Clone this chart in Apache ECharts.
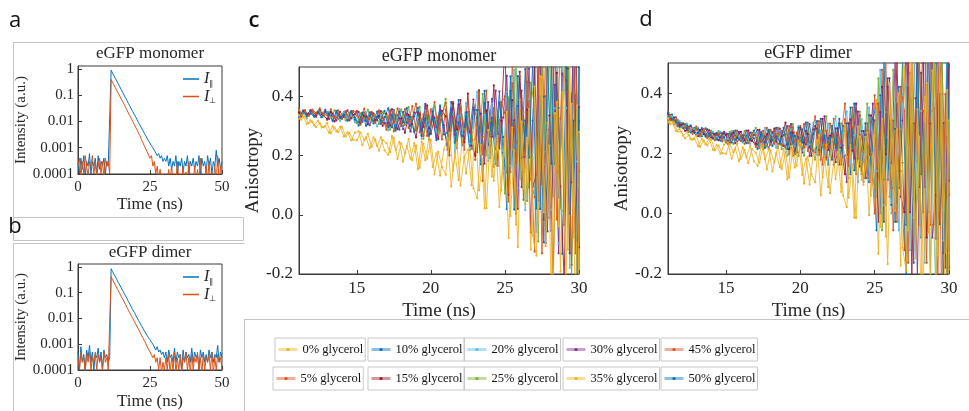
<!DOCTYPE html>
<html><head><meta charset="utf-8">
<script src="https://cdn.jsdelivr.net/npm/echarts@6/dist/echarts.min.js"></script>
<style>html,body{margin:0;padding:0;background:#fff}#c{width:969px;height:411px}</style>
</head><body><div id="c"></div><script>
// ---------- data ----------
const timeAB = [0,0.5,1,1.5,2,2.5,3,3.5,4,4.5,5,5.5,6,6.5,7,7.5,8,8.5,9,9.5,10,10.5,11,11.5,12,12.5,13,13.5,14,14.5,15,15.5,16,16.5,17,17.5,18,18.5,19,19.5,20,20.5,21,21.5,22,22.5,23,23.5,24,24.5,25,25.5,26,26.5,27,27.5,28,28.5,29,29.5,30,30.5,31,31.5,32,32.5,33,33.5,34,34.5,35,35.5,36,36.5,37,37.5,38,38.5,39,39.5,40,40.5,41,41.5,42,42.5,43,43.5,44,44.5,45,45.5,46,46.5,47,47.5,48,48.5,49,49.5,50];
const monoPar = [0.0003,0.0001,0.0004,0.00015,0.0005,0.00008,0.0003,0.0002,0.0006,0.0001,0.0003,0.0002,0.0004,0.00009,0.0005,0.00015,0.0003,0.0002,0.0004,0.0001,0.0003,0.0002,
  0.0002,
  0.9,0.7,0.55,0.43,0.34,0.27,0.21,0.165,0.13,0.1,0.08,0.063,0.049,0.039,0.03,0.024,0.019,0.015,0.0118,0.0092,0.0074,0.0058,0.0046,0.0036,0.0029,0.0023,0.0018,0.0015,0.0012,0.001,0.0008,0.0007,0.0005,0.0006,0.0004,0.0005,0.0003,0.0004,
  0.0003,0.0005,0.0002,0.0004,0.00015,0.0003,0.0002,0.0005,0.0001,0.0003,0.0002,0.0004,0.00012,0.0003,0.0002,0.0005,0.0001,0.0003,0.0002,0.0004,0.00015,0.0003,0.0002,0.0005,0.0001,0.0004,0.0002,0.0003,0.00012,0.0005,0.0002,0.0004,0.0001,0.0003,0.0002,0.0008,0.0002,0.0004,0.00015,0.0003];
const monoPerp = [0.0002,0.0004,0.00008,0.0003,0.0001,0.0005,0.0002,0.00008,0.0003,0.0002,0.0005,0.0001,0.0003,0.00008,0.0002,0.0004,0.0001,0.0003,0.00008,0.0004,0.0002,0.0003,
  0.0001,
  0.4,0.31,0.245,0.19,0.15,0.118,0.092,0.072,0.057,0.045,0.035,0.027,0.021,0.0165,0.013,0.01,0.0078,0.006,0.0048,0.0036,0.0029,0.0021,0.0018,0.0012,0.0011,0.0007,0.0007,0.0004,0.0005,0.0002,0.0003,0.0001,0.0002,0.00006,0.00015,0.00005,0.0001,0.00005,
  0.0001,0.00005,0.00015,0.00005,0.0002,0.00005,0.0001,0.00005,0.0003,0.00005,0.0001,0.00005,0.0002,0.00005,0.00012,0.00005,0.0003,0.00005,0.0001,0.00005,0.0002,0.00005,0.00015,0.00005,0.0004,0.00005,0.0001,0.00005,0.0002,0.00005,0.0003,0.00005,0.0001,0.00005,0.0002,0.00005,0.0005,0.00005,0.0002,0.00005];
const dimPar = [0.0005,0.0001,0.0008,0.0002,0.0004,0.0001,0.0006,0.0003,0.0009,0.0002,0.0005,0.0001,0.0004,0.0003,0.0007,0.0002,0.0005,0.0001,0.0006,0.0003,0.0004,0.0002,
  0.0003,
  0.85,0.66,0.52,0.41,0.32,0.25,0.2,0.155,0.122,0.095,0.075,0.059,0.046,0.036,0.028,0.022,0.0175,0.0138,0.0108,0.0085,0.0067,0.0053,0.0042,0.0034,0.0027,0.0022,0.0018,0.0015,0.0012,0.001,0.0009,0.0006,0.0008,0.0005,0.0006,0.0004,0.0005,0.0003,
  0.0005,0.0002,0.0006,0.0003,0.0004,0.0002,0.0007,0.0002,0.0005,0.0003,0.0004,0.0001,0.0006,0.0002,0.0005,0.0003,0.0004,0.0002,0.0007,0.0002,0.0005,0.0003,0.0004,0.0001,0.0006,0.0003,0.0005,0.0002,0.0004,0.0002,0.0006,0.0003,0.0005,0.0002,0.0004,0.0003,0.0009,0.0002,0.0005,0.0003];
const dimPerp = [0.0003,0.0001,0.0005,0.0002,0.0003,0.00008,0.0004,0.0002,0.0005,0.0001,0.0003,0.0002,0.0005,0.0001,0.0004,0.0002,0.0003,0.0001,0.0005,0.0002,0.0003,0.0001,
  0.0001,
  0.42,0.32,0.25,0.195,0.152,0.12,0.093,0.073,0.057,0.045,0.035,0.027,0.021,0.0165,0.013,0.0101,0.0079,0.0062,0.0048,0.0038,0.003,0.0023,0.0018,0.0014,0.0011,0.0008,0.0007,0.0005,0.0005,0.0003,0.0004,0.0002,0.0003,0.0001,0.0003,0.00008,0.0002,0.0001,
  0.0003,0.0001,0.0004,0.00008,0.0003,0.0001,0.0005,0.00008,0.0003,0.0001,0.0004,0.00008,0.0003,0.0002,0.0005,0.0001,0.0003,0.00008,0.0004,0.0001,0.0003,0.0002,0.0005,0.0001,0.0003,0.00008,0.0004,0.0001,0.0003,0.0002,0.0004,0.0001,0.0005,0.00008,0.0003,0.0001,0.0004,0.0002,0.0003,0.0001];

// sample times (ns) of the anisotropy curves (two interleaved 0.25 ns grids)
const tD1 = [11.1,11.25,11.5,11.75,12,12.25,12.5,12.75,13,13.25,13.5,13.75,14,14.25,14.5,14.75,15,15.25,15.5,15.75,16,16.25,16.5,16.75,17,17.25,17.5,17.75,18,18.25,18.5,18.75,19,19.25,19.5,19.75,20,20.25,20.5,20.75,21,21.25,21.5,21.75,22,22.25,22.5,22.75,23,23.25,23.5,23.75,24,24.25,24.5,24.75,25,25.25,25.5,25.75,26,26.25,26.5,26.75,27,27.25,27.5,27.75,28,28.25,28.5,28.75,29,29.25,29.5,29.75,30];
const tD2 = [11.125,11.375,11.625,11.875,12.125,12.375,12.625,12.875,13.125,13.375,13.625,13.875,14.125,14.375,14.625,14.875,15.125,15.375,15.625,15.875,16.125,16.375,16.625,16.875,17.125,17.375,17.625,17.875,18.125,18.375,18.625,18.875,19.125,19.375,19.625,19.875,20.125,20.375,20.625,20.875,21.125,21.375,21.625,21.875,22.125,22.375,22.625,22.875,23.125,23.375,23.625,23.875,24.125,24.375,24.625,24.875,25.125,25.375,25.625,25.875,26.125,26.375,26.625,26.875,27.125,27.375,27.625,27.875,28.125,28.375,28.625,28.875,29.125,29.375,29.625,29.875,30];

const glycerol = ['0% glycerol','5% glycerol','10% glycerol','15% glycerol','20% glycerol','25% glycerol','30% glycerol','35% glycerol','45% glycerol','50% glycerol'];

// eGFP monomer anisotropy
const mono_0  = [.337,.322,.333,.31,.315,.297,.31,.296, .31,.276,.295,.28,.298,.265,.277,.254, .252,.278,.253,.274,.23,.255,.217,.253, .243,.212,.26,.189,.242,.207,.256,.185, .234,.159,.241,.19,.254,.137,.213,.162, .136,.277,.149,.245,.099,.195,.22,.1, .296,.083,.179,.022,.258,.115,.267,.082, .25,-.078,.295,-.033,.39,.087,.26,-.118, .434,-.025,.467,-.106,.234,-.263,.381,-.192, .56,-.118,.375,-.303,.28];
const mono_5  = [.35,.338,.354,.335,.345,.331,.349,.339, .321,.344,.331,.353,.324,.34,.319,.348, .336,.305,.346,.325,.348,.315,.353,.313, .302,.354,.282,.338,.31,.358,.294,.33, .375,.279,.339,.267,.357,.303,.333,.255, .356,.271,.382,.245,.322,.22,.348,.279, .186,.355,.264,.42,.212,.329,.173,.381, .345,.045,.445,.245,.47,.145,.52,.12, .06,.554,-.13,.402,.136,.592,-.016,.326, .68,-.04,.41,-.13,.545];
const mono_10 = [.331,.347,.339,.353,.334,.345,.33,.349, .338,.317,.346,.331,.347,.324,.351,.322, .313,.346,.301,.336,.318,.349,.308,.331, .36,.296,.336,.288,.348,.312,.332,.28, .349,.289,.367,.271,.325,.253,.343,.295, .235,.346,.286,.388,.252,.329,.226,.363, .327,.171,.379,.275,.392,.223,.418,.21, .143,.468,.018,.368,.193,.493,.093,.318, .628,.02,.4,-.056,.514,.172,.362,-.132, .498,.048,.633,-.087,.318];
const mono_15 = [.346,.331,.35,.341,.352,.336,.354,.335, .325,.348,.316,.341,.329,.35,.321,.338, .351,.311,.336,.306,.344,.321,.334,.301, .342,.302,.354,.29,.326,.278,.338,.306, .262,.34,.298,.37,.274,.328,.256,.352, .333,.201,.377,.289,.388,.245,.41,.234, .2,.421,.115,.353,.234,.438,.166,.319, .58,.068,.388,.004,.484,.196,.356,-.06, .528,.048,.672,-.096,.336,-.24,.48,.096, -.22,.495,.11,.77,-.11];
const mono_20 = [.333,.349,.327,.344,.335,.35,.331,.341, .349,.32,.338,.317,.344,.327,.336,.313, .339,.314,.347,.306,.329,.299,.337,.316, .286,.338,.31,.358,.294,.33,.282,.346, .329,.257,.353,.305,.359,.281,.371,.275, .258,.369,.216,.335,.275,.378,.241,.318, .416,.208,.338,.182,.377,.26,.325,.156, .416,.166,.491,.091,.316,.016,.391,.191, -.058,.436,.17,.626,.018,.36,-.096,.512, .361,-.179,.541,.181,.586];
const mono_25 = [.357,.338,.35,.335,.353,.343,.349,.333, .348,.33,.353,.324,.341,.319,.346,.332, .31,.343,.325,.355,.315,.338,.307,.348, .336,.288,.352,.32,.356,.304,.364,.3, .287,.365,.257,.341,.299,.371,.275,.329, .392,.256,.341,.239,.367,.29,.333,.222, .37,.24,.409,.201,.318,.162,.357,.253, .072,.397,.222,.522,.122,.347,.047,.447, .366,-.09,.518,.214,.556,.062,.632,.024, .007,.592,-.218,.412,.097];
const mono_30 = [.331,.35,.338,.353,.335,.345,.339,.355, .324,.342,.319,.348,.331,.353,.326,.34, .348,.315,.333,.303,.343,.32,.351,.31, .31,.358,.294,.326,.29,.342,.282,.346, .345,.267,.375,.291,.333,.261,.357,.303, .22,.356,.271,.373,.245,.322,.279,.39, .212,.342,.173,.381,.264,.42,.225,.329, .47,.145,.32,.02,.42,.195,.495,.095, .136,.592,-.016,.288,-.054,.44,-.13,.478, .455,-.13,.68,.05,.365];
const mono_35 = [.325,.333,.308,.32,.302,.318,.296,.3, .278,.299,.282,.298,.265,.279,.252,.278, .282,.236,.262,.225,.262,.233,.262,.218, .203,.266,.219,.247,.18,.233,.19,.243, .154,.248,.185,.261,.162,.208,.133,.221, .26,.096,.21,.118,.259,.14,.227,.09, .056,.236,.023,.287,.13,.254,.027,.193, .348,-.004,.218,-.109,.313,.036,.358,-.069, -.138,.468,.009,.311,-.262,.344,-.039,.415, -.252,.511,-.077,.37,-.3];
const mono_45 = [.359,.343,.351,.337,.356,.345,.36,.341, .336,.357,.328,.343,.327,.35,.323,.352, .347,.314,.359,.324,.342,.311,.352,.329, .288,.352,.312,.36,.3,.336,.316,.368, .285,.345,.267,.363,.309,.381,.291,.339, .379,.268,.328,.226,.362,.285,.388,.251, .257,.413,.205,.309,.192,.361,.166,.374, .401,.076,.526,.176,.351,.051,.451,.226, -.124,.484,.104,.56,-.01,.332,.142,.636, -.034,.416,-.169,.551,.146];
const mono_50 = [.338,.353,.334,.343,.332,.348,.33,.349, .343,.32,.352,.327,.339,.318,.347,.33, .302,.342,.317,.347,.309,.332,.319,.352, .297,.337,.285,.349,.313,.361,.301,.333, .362,.284,.326,.254,.35,.296,.368,.272, .278,.381,.244,.313,.236,.347,.219,.355, .354,.185,.419,.237,.328,.172,.38,.263, .019,.419,.169,.469,.094,.319,.194,.519, .021,.401,-.093,.515,.173,.629,.059,.363, .589,.004,.319,-.221,.499];

// eGFP dimer anisotropy
const dim_0  = [.317,.297,.301,.272,.272,.25,.261,.245, .26,.222,.243,.227,.247,.211,.226,.201, .199,.232,.205,.232,.182,.212,.168,.214, .203,.169,.226,.147,.209,.17,.227,.148, .206,.12,.217,.159,.235,.1,.189,.131, .104,.262,.121,.229,.068,.176,.204,.072, .294,.053,.164,-.014,.257,.096,.27,.06, .258,-.133,.315,-.076,.433,.071,.28,-.172, .486,-.055,.528,-.148,.256,-.331,.433,-.244, .614,-.137,.412,-.339,.31];
const dim_5  = [.319,.328,.296,.305,.289,.298,.274,.279, .289,.26,.273,.251,.273,.257,.263,.24, .267,.245,.274,.239,.258,.232,.265,.247, .222,.268,.243,.285,.229,.261,.218,.275, .264,.197,.286,.241,.291,.219,.302,.214, .203,.307,.163,.275,.219,.315,.187,.259, .365,.157,.287,.131,.326,.209,.274,.105, .393,.113,.477,.029,.281,-.055,.365,.141, -.121,.425,.131,.635,-.037,.341,-.163,.509, .349,-.227,.541,.157,.589];
const dim_10 = [.321,.329,.3,.301,.283,.293,.27,.284, .281,.257,.283,.258,.267,.246,.269,.253, .232,.267,.245,.272,.239,.258,.247,.276, .229,.264,.218,.275,.243,.285,.232,.261, .291,.219,.258,.192,.28,.23,.297,.208, .219,.315,.187,.251,.179,.283,.163,.291, .3,.131,.365,.183,.274,.118,.326,.209, -.055,.393,.113,.449,.029,.281,.141,.505, -.037,.383,-.163,.509,.131,.635,.005,.341, .589,-.035,.301,-.275,.493];
const dim_15 = [.332,.313,.319,.292,.295,.275,.288,.273, .26,.278,.264,.28,.252,.265,.244,.267, .261,.234,.269,.252,.272,.243,.276,.241, .232,.278,.215,.264,.239,.282,.225,.257, .302,.214,.269,.203,.286,.236,.264,.192, .291,.211,.315,.187,.259,.163,.283,.219, .131,.3,.209,.365,.157,.274,.118,.326, .309,-.027,.421,.197,.449,.085,.505,.057, .005,.551,-.205,.383,.089,.593,-.079,.299, .685,-.083,.397,-.179,.541];
const dim_20 = [.318,.323,.297,.308,.291,.299,.276,.281, .286,.262,.27,.248,.272,.255,.272,.245, .247,.274,.239,.256,.236,.265,.232,.267, .268,.222,.285,.236,.261,.218,.275,.243, .192,.28,.225,.291,.208,.258,.23,.302, .195,.275,.171,.299,.227,.323,.203,.267, .339,.17,.261,.105,.313,.196,.352,.144, .141,.477,.029,.253,.001,.365,-.055,.393, .425,-.121,.635,.047,.341,-.163,.509,.131, -.275,.493,.013,.589,-.131];
const dim_25 = [.315,.324,.306,.312,.286,.291,.271,.285, .278,.256,.278,.262,.275,.252,.274,.246, .243,.272,.232,.263,.247,.274,.239,.258, .285,.229,.264,.222,.275,.243,.261,.215, .28,.225,.297,.208,.258,.192,.275,.23, .179,.283,.227,.323,.195,.267,.171,.299, .274,.118,.326,.222,.339,.17,.365,.157, .085,.449,-.055,.337,.141,.477,.029,.281, .635,-.037,.383,-.121,.509,.131,.341,-.205, .493,.013,.637,-.131,.301];
const dim_30 = [.331,.308,.32,.295,.297,.276,.29,.275, .257,.28,.261,.277,.251,.263,.253,.272, .241,.263,.234,.269,.25,.276,.243,.261, .278,.232,.257,.215,.271,.239,.282,.225, .23,.297,.208,.253,.203,.275,.192,.28, .283,.179,.323,.211,.267,.171,.299,.227, .105,.313,.183,.339,.144,.261,.196,.365, .057,.337,-.027,.421,.169,.505,.085,.309, .551,.005,.299,-.205,.467,.089,.593,-.079, .061,.637,-.131,.253,-.179];
const dim_35 = [.303,.306,.275,.281,.259,.271,.247,.249, .224,.248,.23,.248,.212,.228,.199,.229, .237,.183,.216,.174,.22,.187,.224,.174, .159,.232,.18,.214,.14,.201,.154,.215, .114,.224,.153,.242,.129,.183,.097,.2, .243,.061,.19,.088,.247,.115,.213,.061, .022,.228,-.013,.289,.112,.255,-.005,.187, .377,-.044,.224,-.167,.342,.01,.399,-.113, -.19,.529,-.013,.346,-.33,.388,-.063,.475, -.287,.562,-.089,.41,-.34];
const dim_45 = [.337,.311,.313,.29,.301,.285,.286,.265, .283,.264,.281,.253,.265,.244,.266,.251, .236,.265,.25,.276,.241,.261,.234,.269, .261,.218,.275,.246,.278,.232,.285,.229, .219,.291,.192,.269,.23,.297,.208,.258, .323,.195,.275,.179,.299,.227,.267,.163, .313,.183,.352,.144,.261,.105,.3,.196, .001,.365,.169,.505,.057,.309,-.027,.421, .341,-.163,.509,.173,.551,.005,.635,-.037, -.035,.589,-.275,.397,.061];
const dim_50 = [.335,.312,.31,.288,.3,.283,.293,.269, .268,.284,.256,.266,.249,.268,.242,.266, .265,.236,.276,.245,.261,.234,.269,.25, .215,.271,.236,.278,.225,.257,.239,.285, .214,.269,.197,.286,.236,.302,.219,.264, .307,.203,.259,.163,.291,.219,.315,.187, .196,.352,.144,.248,.131,.3,.105,.313, .365,.001,.505,.113,.309,-.027,.421,.169, -.205,.467,.047,.551,-.079,.299,.089,.635, -.083,.397,-.227,.541,.109];

// ---------- styling ----------
const SERIF = 'Liberation Serif';
const TXT = '#262626';
const colors = ['#EDB120','#D95319','#0072BD','#A2142F','#4DBEEE','#77AC30','#7E2F8E','#EDB120','#D95319','#0072BD'];
const monoSets = [mono_0,mono_5,mono_10,mono_15,mono_20,mono_25,mono_30,mono_35,mono_45,mono_50];
const dimSets  = [dim_0,dim_5,dim_10,dim_15,dim_20,dim_25,dim_30,dim_35,dim_45,dim_50];
const gridOf   = [tD1,tD1,tD2,tD1,tD2,tD1,tD2,tD2,tD1,tD2];

function pairs(t, v){ const n=Math.min(t.length,v.length); const out=[]; for(let i=0;i<n;i++) out.push([t[i],v[i]]); return out; }

const chart = echarts.init(document.getElementById('c'), null, {renderer:'canvas'});

const gridBase = {show:true, borderColor:'#3a3a3a', borderWidth:1, backgroundColor:'#fff'};
const axisCommon = {
  axisLine:{onZero:false, lineStyle:{color:'#3a3a3a', width:1}},
  axisTick:{inside:true, length:4, lineStyle:{color:'#3a3a3a'}},
  splitLine:{show:false}
};

function logFmt(v){ return String(+Number(v).toPrecision(1)); }

const xAB = (gi, gap) => Object.assign({}, axisCommon, {
  gridIndex:gi, type:'value', min:0, max:50, interval:25,
  axisLabel:{fontFamily:SERIF, fontSize:15, color:TXT, margin:6},
  name:'Time (ns)', nameLocation:'middle', nameGap:gap,
  nameTextStyle:{fontFamily:SERIF, fontSize:17, color:TXT}
});
const yAB = (gi) => Object.assign({}, axisCommon, {
  gridIndex:gi, type:'log', logBase:10, min:0.0001, max:1.3,
  axisLabel:{fontFamily:SERIF, fontSize:15, color:TXT, margin:4, showMaxLabel:false, formatter:logFmt},
  name:'Intensity (a.u.)', nameLocation:'middle', nameGap:45,
  nameTextStyle:{fontFamily:SERIF, fontSize:15, color:TXT}
});
const xCD = (gi) => Object.assign({}, axisCommon, {
  gridIndex:gi, type:'value', min:11.1, max:30, splitNumber:4,
  axisLabel:{fontFamily:SERIF, fontSize:17, color:TXT, margin:6, showMinLabel:false},
  name:'Time (ns)', nameLocation:'middle', nameGap:24,
  nameTextStyle:{fontFamily:SERIF, fontSize:19, color:TXT}
});
const yCD = (gi, gap) => Object.assign({}, axisCommon, {
  gridIndex:gi, type:'value', min:-0.2, max:0.5, interval:0.2,
  axisLabel:{fontFamily:SERIF, fontSize:17, color:TXT, margin:6, showMaxLabel:false, formatter:v=>Number(v).toFixed(1)},
  name:'Anisotropy', nameLocation:'middle', nameGap:gap,
  nameTextStyle:{fontFamily:SERIF, fontSize:19, color:TXT}
});

const series = [];
function addIntensity(gi, par, perp){
  series.push({type:'line', name:'Ipar', xAxisIndex:gi, yAxisIndex:gi, data:pairs(timeAB,par), symbol:'none', clip:true,
    color:'#0072BD', lineStyle:{width:1}, animation:false});
  series.push({type:'line', name:'Iperp', xAxisIndex:gi, yAxisIndex:gi, data:pairs(timeAB,perp), symbol:'none', clip:true,
    color:'#D95319', lineStyle:{width:1}, animation:false});
}
addIntensity(0, monoPar, monoPerp);
addIntensity(1, dimPar, dimPerp);
function addAniso(gi, sets){
  for(let k=0;k<10;k++){
    const yellow = (k===0 || k===7);
    series.push({type:'line', name:glycerol[k], xAxisIndex:gi, yAxisIndex:gi, data:pairs(gridOf[k], sets[k]),
      symbol:'circle', symbolSize:2.2, showSymbol:true, clip:true, color:colors[k], z: yellow ? 3 : 2,
      lineStyle:{width:1, opacity:0.85}, itemStyle:{opacity:1}, animation:false});
  }
}
addAniso(2, monoSets);
addAniso(3, dimSets);

const richI = {
  i:{fontFamily:SERIF, fontStyle:'italic', fontSize:16, color:TXT},
  s:{fontFamily:'DejaVu Sans', fontSize:8, color:TXT, padding:[9,0,0,0]}
};
const fmtI = n => n==='Ipar' ? '{i|I}{s|∥}' : '{i|I}{s|⊥}';
const legends = [
  {data:['Ipar','Iperp'], left:183, top:71, orient:'vertical', itemGap:1, itemWidth:16, itemHeight:1.5, icon:'rect',
   formatter:fmtI, textStyle:{rich:richI}, padding:0},
  {data:['Ipar','Iperp'], left:183, top:269, orient:'vertical', itemGap:1, itemWidth:16, itemHeight:1.5, icon:'rect',
   formatter:fmtI, textStyle:{rich:richI}, padding:0}
];
// glycerol legend boxes: row 1 = 0,10,20,30,45 ; row 2 = 5,15,25,35,50
const legendRows = [[0,2,4,6,8],[1,3,5,7,9]];
const colLeft = [[275,368,464,563,661],[273,368,464,563,661]];
const rowTop = [338,367];
legendRows.forEach((row,r)=>row.forEach((k,c)=>{
  legends.push({data:[glycerol[k]], left:colLeft[r][c], top:rowTop[r], orient:'horizontal',
    itemWidth:19, itemHeight:4, itemGap:0, padding:[5,2,5,2],
    borderColor:'#c8c8c8', borderWidth:1,
    lineStyle:{width:3, opacity:0.45}, itemStyle:{opacity:1},
    textStyle:{fontFamily:SERIF, fontSize:12.5, color:'#111'}});
}));

const lineEl = (x1,y1,x2,y2) => ({type:'line', shape:{x1,y1,x2,y2}, style:{stroke:'#c4c4c4', lineWidth:1}, silent:true});
const txtEl = (x,y,text,font,extra) => ({type:'text', x, y, style:Object.assign({text, font, fill:'#111', textAlign:'center', textVerticalAlign:'middle'}, extra||{}), silent:true});

const graphic = [
  lineEl(13,42.5,969,42.5),
  lineEl(13.5,42,13.5,217),
  {type:'rect', shape:{x:13.5,y:217.5,width:230,height:23}, style:{fill:'none', stroke:'#c4c4c4', lineWidth:1}, silent:true},
  lineEl(13,243.5,245,243.5),
  lineEl(13.5,243,13.5,411),
  lineEl(244,319.5,969,319.5),
  lineEl(244.5,319,244.5,411),
  txtEl(15,21,'a','22px "Open Sans"'),
  txtEl(15,227,'b','22px "Open Sans"'),
  txtEl(254,21,'c','600 22px "Open Sans"'),
  txtEl(646,20,'d','22px "Open Sans"'),
  txtEl(150,54,'eGFP monomer','17px "Liberation Serif"',{fill:TXT}),
  txtEl(150,253,'eGFP dimer','17px "Liberation Serif"',{fill:TXT}),
  txtEl(439,56,'eGFP monomer','18px "Liberation Serif"',{fill:TXT}),
  txtEl(808,53,'eGFP dimer','18px "Liberation Serif"',{fill:TXT})
];

chart.setOption({
  animation:false,
  backgroundColor:'#fff',
  grid:[
    Object.assign({left:78, top:66, width:144, height:108}, gridBase),
    Object.assign({left:78, top:264, width:144, height:109}, gridBase),
    Object.assign({left:299, top:67, width:280, height:207}, gridBase),
    Object.assign({left:668, top:63, width:281, height:211}, gridBase)
  ],
  xAxis:[xAB(0,20), xAB(1,23), xCD(2), xCD(3)],
  yAxis:[yAB(0), yAB(1), yCD(2,28), yCD(3,30)],
  legend:legends,
  graphic:graphic,
  series:series
});
</script></body></html>
